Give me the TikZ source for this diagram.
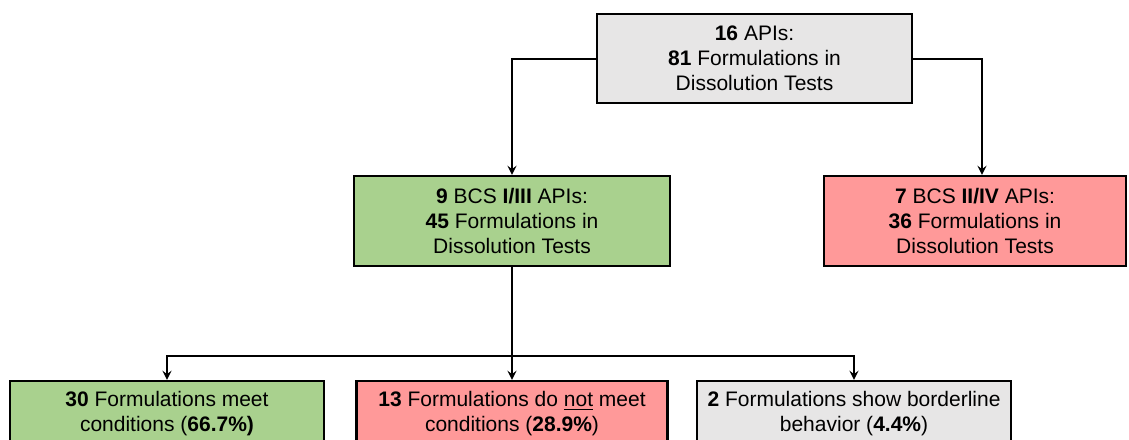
\documentclass[tikz,border=0pt]{standalone}
\usepackage{fontspec}
\setmainfont{Liberation Sans}
\usepackage{tikz}
\usetikzlibrary{shapes.geometric, arrows}
\usetikzlibrary{calc}
\usepackage{xcolor}
\definecolor{boxgrey}{RGB}{231,230,230}
\definecolor{boxgreen}{RGB}{169,209,142}
\definecolor{boxred}{RGB}{255,153,153}
\tikzstyle{base} = [rectangle, minimum height=45pt, text centered, align=center, draw=black, line width=1.1pt, inner sep=0pt, font=\fontsize{10.5pt}{12.5pt}\selectfont]
\tikzstyle{greybox} = [base, fill=boxgrey]
\tikzstyle{greenbox} = [base, fill=boxgreen]
\tikzstyle{redbox} = [base, fill=boxred]
\tikzstyle{result} = [minimum width=157pt, minimum height=32.5pt]
\tikzstyle{arrow} = [line width=1pt,->,>=stealth]
\begin{document}
\begin{tikzpicture}[node distance=81.25pt]
	\useasboundingbox (0,0) rectangle (564.5pt,-219.5pt);
	\clip (0,0) rectangle (564.5pt,-219.5pt);
	\node (apis) [greybox, minimum width=157.5pt, minimum height=44.5pt] at (377.25pt,-29.25pt) {\textbf{16} APIs:\\\textbf{81} Formulations in\\Dissolution Tests};
	\node (bcs13) [greenbox, minimum width=158pt, below of=apis, xshift=-121.25pt] {\textbf{9} BCS \textbf{I/III} APIs:\\\textbf{45} Formulations in\\Dissolution Tests};
	\node (bcs24) [redbox, minimum width=151pt, below of=apis, xshift=110.25pt] {\textbf{7} BCS \textbf{II/IV} APIs:\\\textbf{36} Formulations in\\Dissolution Tests};
	\node (meet) [greenbox, result, below of=bcs13, xshift=-172.5pt, yshift=-15pt] {\textbf{30} Formulations meet\\conditions (\textbf{66.7\%)}};
	\node (notmeet) [redbox, result, minimum width=155.5pt, below of=bcs13, yshift=-15pt] {\textbf{13} Formulations do \underline{not} meet\\conditions (\textbf{28.9\%})};
	\node (border) [greybox, result, below of=bcs13, xshift=171pt, yshift=-15pt] {\textbf{2} Formulations show borderline\\behavior (\textbf{4.4\%})};
	\coordinate (split) at ($(bcs13.south)+(0,-44.5pt)$);
	%lines
	\draw [arrow] (apis.west) -| (bcs13);
	\draw [arrow] (apis.east) -| ([xshift=3.5pt]bcs24.north);
	\draw [arrow] (bcs13) -- (notmeet);
	\draw [arrow] (split) -| (meet);
	\draw [arrow] (split) -| (border);
\end{tikzpicture}
\end{document}
